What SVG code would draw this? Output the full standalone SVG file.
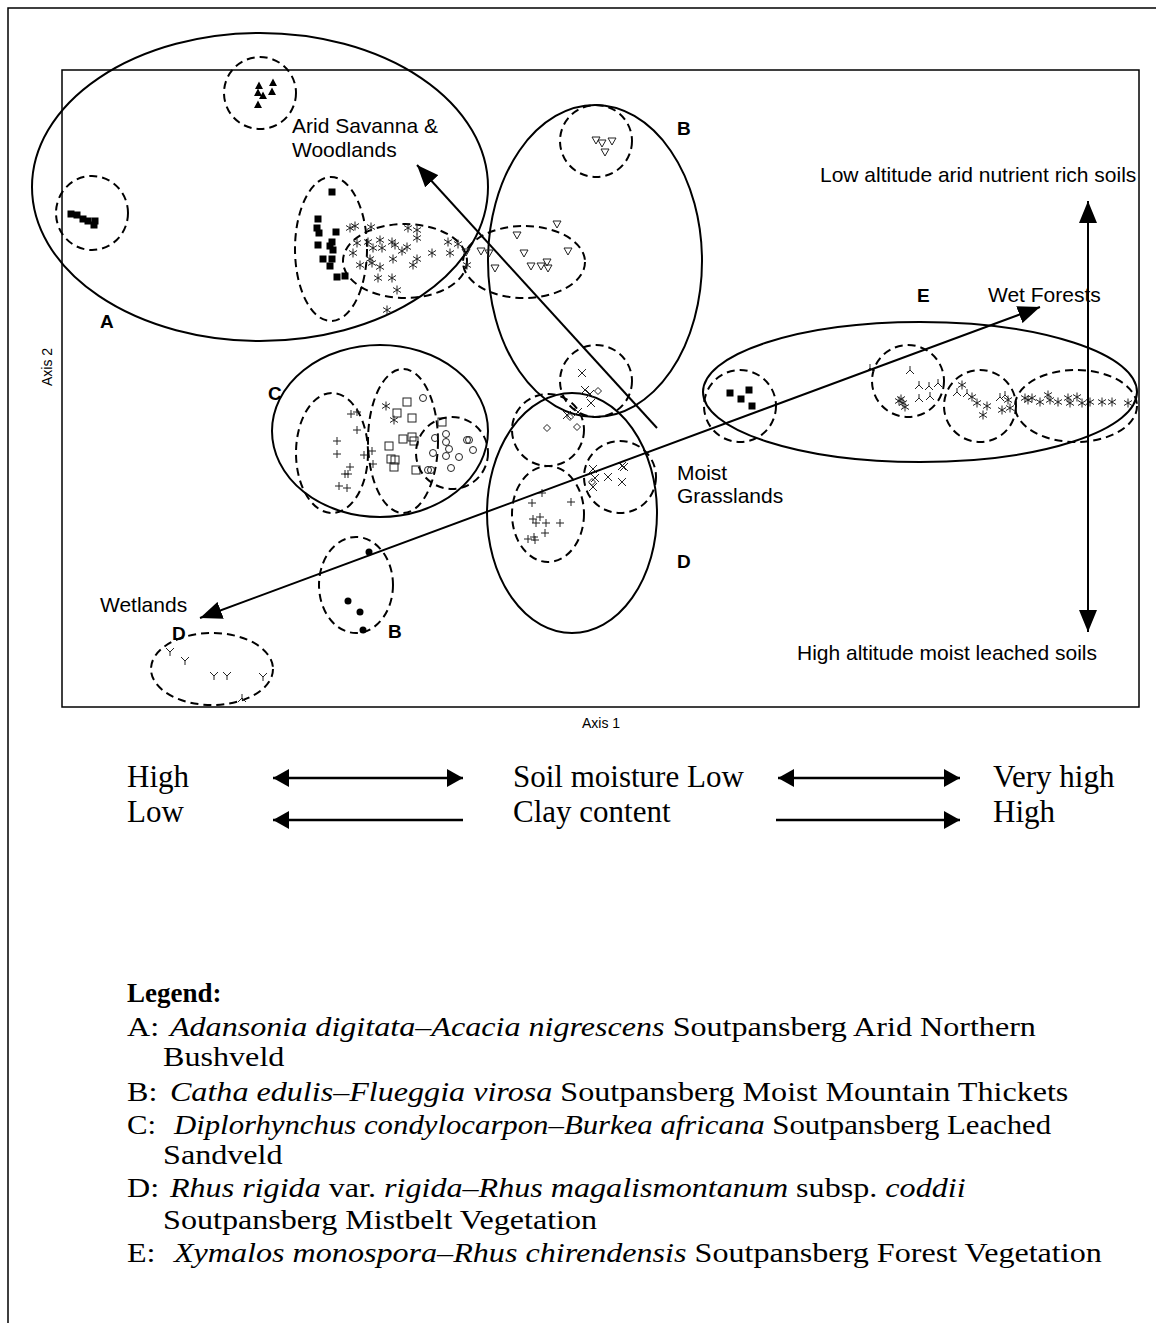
<svg xmlns="http://www.w3.org/2000/svg" width="1156" height="1323" viewBox="0 0 1156 1323">
<style>
.sol{fill:none;stroke:#000;stroke-width:2}
.dsh{fill:none;stroke:#000;stroke-width:2;stroke-dasharray:8 5}
.lab{font-family:"Liberation Sans",Arial,sans-serif;font-size:21px;fill:#000}
.let{font-family:"Liberation Sans",Arial,sans-serif;font-size:19px;font-weight:bold;fill:#000}
.ax{font-family:"Liberation Sans",Arial,sans-serif;font-size:14px;fill:#000}
.tr{font-family:"Liberation Serif","Times New Roman",serif;font-size:31px;fill:#000}
.lg{font-family:"Liberation Serif","Times New Roman",serif;font-size:27px;fill:#000}
.it{font-style:italic}
.conn{fill:none;stroke:#000;stroke-width:2}
.barr{fill:none;stroke:#000;stroke-width:2.5}
.pt{fill:none;stroke:#222;stroke-width:1}
</style>
<defs>
<marker id="ah" viewBox="0 0 22 18" refX="22" refY="9" markerWidth="22" markerHeight="18" markerUnits="userSpaceOnUse" orient="auto-start-reverse"><path d="M0,0 L22,9 L0,18 z" fill="#000"/></marker>
<marker id="bh" viewBox="0 0 16 18" refX="16" refY="9" markerWidth="16" markerHeight="18" markerUnits="userSpaceOnUse" orient="auto-start-reverse"><path d="M0,0 L16,9 L0,18 z" fill="#000"/></marker>
<path id="tri" d="M0,-4.5 L4,3 L-4,3 z" fill="#000"/>
<rect id="sq" x="-3.5" y="-3.5" width="7" height="7" fill="#000"/>
<path id="ast" class="pt" d="M0,-4.5V4.5 M-4,-2.5L4,2.5 M-4,2.5L4,-2.5"/>
<path id="dtri" class="pt" d="M-4,-3 H4 L0,4 z"/>
<path id="plus" class="pt" d="M-4,0H4 M0,-4V4"/>
<rect id="osq" class="pt" x="-4" y="-4" width="8" height="8"/>
<circle id="circ" class="pt" r="3.5"/>
<path id="xm" class="pt" d="M-4,-4L4,4 M-4,4L4,-4"/>
<path id="dia" class="pt" d="M0,-3.5 L3.5,0 L0,3.5 L-3.5,0 z"/>
<circle id="dot" r="3.5" fill="#000"/>
<path id="lam" class="pt" d="M0,-4V0 L-4,4 M0,0 L4,4"/>
<path id="ys" class="pt" d="M-4,-4 L0,0 L4,-4 M0,0 V4"/>
</defs>

<path d="M8,1323 V8 H1156" fill="none" stroke="#000" stroke-width="1.5"/>
<rect x="62" y="70" width="1077" height="637" fill="none" stroke="#000" stroke-width="1.5"/>

<g id="groupA">
<ellipse class="sol" cx="260" cy="187" rx="228" ry="154"/>
<text class="let" x="100" y="328">A</text>
</g>
<g id="A-triangles">
<circle class="dsh" cx="260" cy="93" r="36"/>
<use href="#tri" x="259" y="86"/><use href="#tri" x="273" y="83"/><use href="#tri" x="258" y="93"/><use href="#tri" x="263" y="96"/><use href="#tri" x="272" y="92"/><use href="#tri" x="258" y="105"/>
</g>
<g id="A-squares-left">
<ellipse class="dsh" cx="92" cy="213" rx="36" ry="37"/>
<use href="#sq" x="71" y="214"/><use href="#sq" x="77" y="215"/><use href="#sq" x="83" y="219"/><use href="#sq" x="88" y="221"/><use href="#sq" x="95" y="221"/><use href="#sq" x="94" y="225"/>
</g>
<g id="A-squares">
<ellipse class="dsh" cx="331" cy="249" rx="36" ry="72"/>
<use href="#sq" x="332" y="192"/><use href="#sq" x="318" y="219"/><use href="#sq" x="317" y="228"/><use href="#sq" x="319" y="233"/><use href="#sq" x="336" y="232"/><use href="#sq" x="332" y="242"/><use href="#sq" x="318" y="245"/><use href="#sq" x="333" y="250"/><use href="#sq" x="330" y="246"/><use href="#sq" x="323" y="259"/><use href="#sq" x="332" y="259"/><use href="#sq" x="330" y="266"/><use href="#sq" x="337" y="277"/><use href="#sq" x="345" y="276"/>
</g>
<g id="A-asterisks">
<ellipse class="dsh" cx="405" cy="261" rx="62" ry="37"/>
<use href="#ast" x="350" y="228"/><use href="#ast" x="355" y="226"/><use href="#ast" x="371" y="227"/><use href="#ast" x="408" y="228"/><use href="#ast" x="417" y="230"/><use href="#ast" x="417" y="238"/><use href="#ast" x="357" y="243"/><use href="#ast" x="368" y="242"/><use href="#ast" x="380" y="240"/><use href="#ast" x="392" y="242"/><use href="#ast" x="395" y="245"/><use href="#ast" x="407" y="247"/><use href="#ast" x="402" y="251"/><use href="#ast" x="382" y="248"/><use href="#ast" x="373" y="248"/><use href="#ast" x="353" y="253"/><use href="#ast" x="432" y="253"/><use href="#ast" x="450" y="253"/><use href="#ast" x="448" y="242"/><use href="#ast" x="458" y="244"/><use href="#ast" x="370" y="259"/><use href="#ast" x="393" y="259"/><use href="#ast" x="417" y="259"/><use href="#ast" x="360" y="265"/><use href="#ast" x="380" y="267"/><use href="#ast" x="413" y="265"/><use href="#ast" x="378" y="278"/><use href="#ast" x="392" y="278"/><use href="#ast" x="397" y="290"/><use href="#ast" x="387" y="310"/><use href="#ast" x="467" y="265"/><use href="#ast" x="372" y="263"/>
</g>

<g id="groupB">
<ellipse class="sol" cx="595" cy="261" rx="107" ry="156"/>
<text class="let" x="677" y="135">B</text>
</g>
<g id="B-top">
<circle class="dsh" cx="596" cy="141" r="36"/>
<use href="#dtri" x="596" y="140"/><use href="#dtri" x="602" y="143"/><use href="#dtri" x="612" y="141"/><use href="#dtri" x="605" y="152"/>
</g>
<g id="B-mid">
<ellipse class="dsh" cx="524" cy="262" rx="61" ry="36"/>
<use href="#dtri" x="557" y="224"/><use href="#dtri" x="517" y="235"/><use href="#dtri" x="568" y="251"/><use href="#dtri" x="524" y="253"/><use href="#dtri" x="481" y="251"/><use href="#dtri" x="489" y="253"/><use href="#dtri" x="531" y="266"/><use href="#dtri" x="541" y="266"/><use href="#dtri" x="547" y="262"/><use href="#dtri" x="548" y="268"/><use href="#dtri" x="495" y="268"/><use href="#dtri" x="466" y="252"/>
</g>

<g id="groupC">
<ellipse class="sol" cx="380" cy="431" rx="108" ry="86"/>
<text class="let" x="268" y="400">C</text>
</g>
<g id="C-plus">
<ellipse class="dsh" cx="332" cy="453" rx="36" ry="60"/>
<use href="#plus" x="351" y="414"/><use href="#plus" x="357" y="412"/><use href="#plus" x="357" y="430"/><use href="#plus" x="337" y="441"/><use href="#plus" x="337" y="454"/><use href="#plus" x="364" y="455"/><use href="#plus" x="372" y="451"/><use href="#plus" x="373" y="464"/><use href="#plus" x="350" y="467"/><use href="#plus" x="348" y="474"/><use href="#plus" x="345" y="474"/><use href="#plus" x="339" y="486"/><use href="#plus" x="347" y="488"/>
</g>
<g id="C-squares">
<ellipse class="dsh" cx="403" cy="441" rx="35" ry="72"/>
<use href="#ast" x="386" y="406"/><use href="#ast" x="394" y="420"/>
<use href="#osq" x="407" y="402"/><use href="#osq" x="397" y="413"/><use href="#osq" x="412" y="418"/><use href="#osq" x="403" y="439"/><use href="#osq" x="412" y="437"/><use href="#osq" x="414" y="441"/><use href="#osq" x="389" y="446"/><use href="#osq" x="391" y="459"/><use href="#osq" x="395" y="460"/><use href="#osq" x="394" y="467"/><use href="#osq" x="416" y="470"/><use href="#osq" x="442" y="422"/>
</g>
<g id="C-circles">
<circle class="dsh" cx="452" cy="453" r="36"/>
<use href="#circ" x="423" y="398"/><use href="#circ" x="446" y="434"/><use href="#circ" x="435" y="438"/><use href="#circ" x="446" y="442"/><use href="#circ" x="449" y="449"/><use href="#circ" x="433" y="453"/><use href="#circ" x="446" y="456"/><use href="#circ" x="459" y="457"/><use href="#circ" x="467" y="440"/><use href="#circ" x="469" y="440"/><use href="#circ" x="473" y="450"/><use href="#circ" x="451" y="468"/><use href="#circ" x="428" y="470"/><use href="#circ" x="431" y="470"/>
</g>

<g id="groupD">
<ellipse class="sol" cx="572" cy="513" rx="85" ry="120"/>
<text class="let" x="677" y="568">D</text>
</g>
<g id="D-xtop">
<circle class="dsh" cx="596" cy="381" r="36"/>
<use href="#xm" x="582" y="373"/><use href="#xm" x="585" y="390"/><use href="#xm" x="590" y="394"/><use href="#xm" x="591" y="403"/><use href="#dia" x="598" y="391"/>
</g>
<g id="D-diamonds">
<circle class="dsh" cx="548" cy="430" r="36"/>
<use href="#dia" x="547" y="428"/><use href="#dia" x="577" y="427"/><use href="#xm" x="567" y="415"/><use href="#dia" x="570" y="417"/><use href="#xm" x="578" y="412"/>
</g>
<g id="D-plus">
<ellipse class="dsh" cx="548" cy="514" rx="36" ry="48"/>
<use href="#plus" x="542" y="493"/><use href="#plus" x="532" y="503"/><use href="#plus" x="571" y="502"/><use href="#plus" x="533" y="519"/><use href="#plus" x="540" y="517"/><use href="#plus" x="536" y="523"/><use href="#plus" x="546" y="523"/><use href="#plus" x="560" y="523"/><use href="#plus" x="545" y="533"/><use href="#plus" x="528" y="539"/><use href="#plus" x="535" y="540"/><use href="#plus" x="534" y="537"/>
</g>
<g id="D-xright">
<circle class="dsh" cx="620" cy="477" r="36"/>
<use href="#xm" x="593" y="469"/><use href="#xm" x="595" y="478"/><use href="#xm" x="593" y="487"/><use href="#xm" x="608" y="477"/><use href="#xm" x="622" y="482"/><use href="#xm" x="622" y="466"/><use href="#xm" x="624" y="467"/><use href="#dia" x="592" y="482"/>
</g>

<g id="groupE">
<ellipse class="sol" cx="920" cy="392" rx="217" ry="70"/>
<text class="let" x="917" y="302">E</text>
</g>
<g id="E-squares">
<circle class="dsh" cx="740" cy="406" r="36"/>
<use href="#sq" x="730" y="393"/><use href="#sq" x="749" y="390"/><use href="#sq" x="741" y="399"/><use href="#sq" x="752" y="406"/>
</g>
<g id="E-lambda">
<circle class="dsh" cx="908" cy="381" r="36"/>
<use href="#lam" x="910" y="370"/><use href="#lam" x="919" y="385"/><use href="#lam" x="929" y="386"/><use href="#lam" x="938" y="383"/><use href="#lam" x="930" y="396"/><use href="#lam" x="919" y="398"/><use href="#lam" x="870" y="368"/>
<use href="#ast" x="901" y="399"/><use href="#ast" x="903" y="403"/><use href="#ast" x="905" y="407"/><use href="#ast" x="899" y="401"/>
</g>
<g id="E-ast-mid">
<circle class="dsh" cx="980" cy="406" r="36"/>
<use href="#ast" x="962" y="385"/><use href="#lam" x="957" y="392"/><use href="#lam" x="967" y="393"/><use href="#ast" x="972" y="397"/><use href="#ast" x="977" y="403"/><use href="#ast" x="987" y="406"/><use href="#ast" x="983" y="415"/><use href="#lam" x="1000" y="397"/><use href="#ast" x="1008" y="400"/><use href="#ast" x="1002" y="410"/><use href="#ast" x="1010" y="408"/><use href="#lam" x="1005" y="395"/>
</g>
<g id="E-ast-right">
<ellipse class="dsh" cx="1076" cy="406" rx="61" ry="36"/>
<use href="#ast" x="1025" y="398"/><use href="#ast" x="1028" y="400"/><use href="#ast" x="1032" y="398"/><use href="#ast" x="1040" y="402"/><use href="#ast" x="1048" y="395"/><use href="#ast" x="1050" y="400"/><use href="#ast" x="1058" y="402"/><use href="#ast" x="1068" y="398"/><use href="#ast" x="1077" y="397"/><use href="#ast" x="1070" y="403"/><use href="#ast" x="1082" y="403"/><use href="#ast" x="1090" y="402"/><use href="#ast" x="1102" y="402"/><use href="#ast" x="1112" y="402"/><use href="#ast" x="1128" y="403"/>
</g>

<g id="B-dots">
<ellipse class="dsh" cx="356" cy="585" rx="37" ry="48"/>
<use href="#dot" x="369" y="552"/><use href="#dot" x="348" y="601"/><use href="#dot" x="360" y="612"/><use href="#dot" x="363" y="630"/>
<text class="let" x="388" y="638">B</text>
</g>
<g id="D-wet">
<ellipse class="dsh" cx="212" cy="669" rx="61" ry="36"/>
<use href="#ys" x="170" y="652"/><use href="#ys" x="185" y="661"/><use href="#ys" x="214" y="676"/><use href="#ys" x="227" y="676"/><use href="#ys" x="263" y="677"/><use href="#lam" x="242" y="698"/>
<text class="let" x="172" y="640">D</text>
</g>

<g id="connectors">
<line class="conn" x1="657" y1="428" x2="417" y2="165" marker-end="url(#ah)"/>
<line class="conn" x1="200" y1="618" x2="1040" y2="307" marker-start="url(#ah)" marker-end="url(#ah)"/>
<line class="conn" x1="1088" y1="201" x2="1088" y2="632" marker-start="url(#ah)" marker-end="url(#ah)"/>
<line class="barr" x1="273" y1="778" x2="463" y2="778" marker-start="url(#bh)" marker-end="url(#bh)"/>
<line class="barr" x1="778" y1="778" x2="960" y2="778" marker-start="url(#bh)" marker-end="url(#bh)"/>
<line class="barr" x1="463" y1="820" x2="273" y2="820" marker-end="url(#bh)"/>
<line class="barr" x1="776" y1="820" x2="960" y2="820" marker-end="url(#bh)"/>
</g>

<g id="labels">
<text class="lab" x="292" y="133">Arid Savanna &amp;</text>
<text class="lab" x="292" y="157">Woodlands</text>
<text class="lab" x="820" y="182">Low altitude arid nutrient rich soils</text>
<text class="lab" x="988" y="302">Wet Forests</text>
<text class="lab" x="677" y="480">Moist</text>
<text class="lab" x="677" y="503">Grasslands</text>
<text class="lab" x="100" y="612">Wetlands</text>
<text class="lab" x="797" y="660">High altitude moist leached soils</text>
<text class="ax" x="601" y="728" text-anchor="middle">Axis 1</text>
<text class="ax" x="52" y="367" text-anchor="middle" transform="rotate(-90 52 367)">Axis 2</text>
</g>

<g id="gradients">
<text class="tr" x="127" y="787">High</text>
<text class="tr" x="513" y="787">Soil moisture Low</text>
<text class="tr" x="993" y="787">Very high</text>
<text class="tr" x="127" y="822">Low</text>
<text class="tr" x="513" y="822">Clay content</text>
<text class="tr" x="993" y="822">High</text>
</g>

<g id="legend">
<text class="lg" x="127" y="1002" font-weight="bold">Legend:</text>
<g transform="translate(127,0) scale(1.19,1)">
<text class="lg" x="0" y="1036">A:<tspan class="it" x="36.1">Adansonia digitata–Acacia nigrescens</tspan> Soutpansberg Arid Northern</text>
<text class="lg" x="30.3" y="1066">Bushveld</text>
<text class="lg" x="0" y="1101">B:<tspan class="it" x="36.1">Catha edulis–Flueggia virosa</tspan> Soutpansberg Moist Mountain Thickets</text>
<text class="lg" x="30.3" y="1164">Sandveld</text>
<text class="lg" x="0" y="1197">D:<tspan class="it" x="36.1">Rhus rigida</tspan> var. <tspan class="it">rigida–Rhus magalismontanum</tspan> subsp. <tspan class="it">coddii</tspan></text>
<text class="lg" x="30.3" y="1229">Soutpansberg Mistbelt Vegetation</text>
<text class="lg" x="0" y="1262">E:<tspan class="it" x="39.5">Xymalos monospora–Rhus chirendensis</tspan> Soutpansberg Forest Vegetation</text>
</g>
<g transform="translate(127,0) scale(1.14,1)">
<text class="lg" x="0" y="1134">C:<tspan class="it" x="41.2">Diplorhynchus condylocarpon–Burkea africana</tspan> Soutpansberg Leached</text>
</g>
</g>
</svg>
